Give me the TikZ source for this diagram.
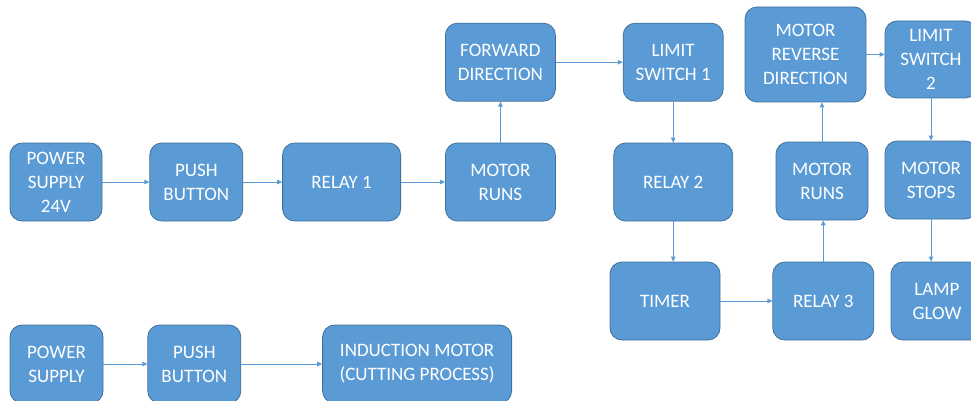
\documentclass[tikz,border=0pt]{standalone}
\usepackage{fontspec}
\setmainfont{Carlito}
\usepackage{tikz}
\usetikzlibrary{positioning}
\usetikzlibrary{arrows.meta}

\definecolor{boxblue}{HTML}{5B9BD5}
\definecolor{boxedge}{HTML}{41719C}

\tikzset{
    blk/.style={draw=boxedge, fill=boxblue, line width=0.8pt, rounded corners=12pt,
        text=white, align=center, inner sep=0pt, minimum height=78pt,
        font=\fontsize{19}{24}\selectfont},
    flow/.style={draw=boxblue, line width=1pt, -{Triangle[length=5pt,width=4.5pt]}},
}

\begin{document}
\begin{tikzpicture}[x=1pt, y=1pt]
    \useasboundingbox (0,0) rectangle (971,-401);

    % main chain
    \node [blk, minimum width=92pt] (ps24) at (56,-182) {POWER\\SUPPLY\\24V};
    \node [blk, minimum width=93pt, right=47pt of ps24] (pb1) {PUSH\\BUTTON};
    \node [blk, minimum width=118pt, right=39pt of pb1] (relay1) {RELAY 1};
    \node [blk, minimum width=110pt, right=44pt of relay1] (runs1) {MOTOR\\RUNS};
    \node [blk, minimum width=110pt, above=41pt of runs1] (fwd) {FORWARD\\DIRECTION};
    \node [blk, minimum width=100pt, right=67pt of fwd] (ls1) {LIMIT\\SWITCH 1};
    \node [blk, minimum width=119pt, below=41pt of ls1] (relay2) {RELAY 2};
    \node [blk, minimum width=110pt] (timer) at (665,-301) {TIMER};
    \node [blk, minimum width=101pt, right=52pt of timer] (relay3) {RELAY 3};
    \node [blk, minimum width=92pt] (runs2) at (822,-181) {MOTOR\\RUNS};
    \node [blk, minimum width=121pt, minimum height=95pt] (rev) at (805.5,-54.5) {MOTOR\\REVERSE\\DIRECTION};
    \node [blk, minimum width=92pt, minimum height=77pt] (ls2) at (931,-59.5) {LIMIT\\SWITCH\\2};
    \node [blk, minimum width=92pt] (stops) at (931,-180) {MOTOR\\STOPS};
    \node [blk, minimum width=92pt] (lamp) at (937,-301) {LAMP\\GLOW};

    % cutting chain
    \node [blk, minimum width=93pt] (ps) at (56.5,-364) {POWER\\SUPPLY};
    \node [blk, minimum width=93pt, right=44pt of ps] (pb2) {PUSH\\BUTTON};
    \node [blk, minimum width=189pt, right=81pt of pb2] (induct) {INDUCTION MOTOR\\(CUTTING PROCESS)};

    \draw [flow] (ps24) -- (pb1);
    \draw [flow] (pb1) -- (relay1);
    \draw [flow] (relay1) -- (runs1);
    \draw [flow] (runs1) -- (fwd);
    \draw [flow] (fwd) -- (ls1);
    \draw [flow] (ls1) -- (relay2);
    \draw [flow] (relay2.south) -- (relay2.south |- timer.north);
    \draw [flow] (timer) -- (relay3);
    \draw [flow] (relay3.north) -- (relay3.north |- runs2.south);
    \draw [flow] (runs2.north) -- (runs2.north |- rev.south);
    \draw [flow] (rev.east) -- (rev.east -| ls2.west);
    \draw [flow] (ls2) -- (stops);
    \draw [flow] (stops.south) -- (stops.south |- lamp.north);
    \draw [flow] (ps) -- (pb2);
    \draw [flow] (pb2) -- (induct);
\end{tikzpicture}
\end{document}
